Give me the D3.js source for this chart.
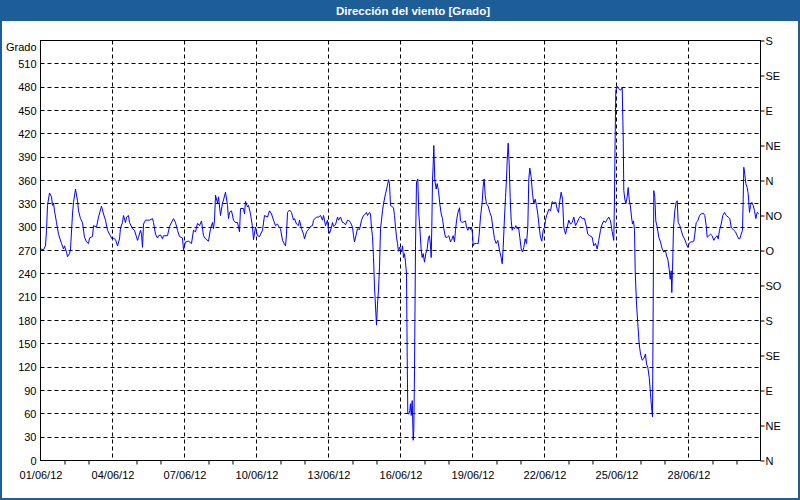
<!DOCTYPE html>
<html>
<head>
<meta charset="utf-8">
<script src="https://cdn.jsdelivr.net/npm/d3@7"></script>
<style>
  body { margin: 0; background: #fff; }
  text { font-family: "Liberation Sans", Arial, sans-serif; font-size: 11px; fill: #000; }
</style>
</head>
<body>
<div id="chart"></div>
<script>
const titulo = "Dirección del viento [Grado]";
const unidad = "Grado";

// horas desde 01/06/12 00:00
const horas = [
  0, 3, 5, 6, 7, 9, 11, 12, 13, 14, 16, 18, 21, 23, 24, 26, 27, 29, 30, 32,
  33, 35, 37, 38, 40, 42, 44, 46, 48, 49, 52, 53, 56, 58, 61, 63, 65, 67, 69, 72,
  73, 75, 77, 79, 80, 82, 83, 85, 86, 88, 89, 92, 94, 97, 98, 100, 101, 102, 103, 105,
  107, 109, 112, 113, 115, 117, 118, 120,
  122, 123, 127, 129, 133, 135, 137, 139, 142, 143, 145, 148, 151, 153, 155, 157, 159, 161,
  163, 165, 168, 170, 172, 173, 174, 175, 177, 178, 180, 182, 183, 185, 187, 188, 189, 191,
  193, 195, 197, 199, 200, 203, 204, 205, 207, 208, 210, 212, 213, 215, 217, 219, 222, 224,
  227, 229, 231, 233, 235, 237, 239,
  240, 242, 244, 245, 246, 247, 249, 251, 253, 254, 256, 258, 259, 261, 263, 264, 266, 268,
  270, 272, 273, 276, 278, 280, 282, 283, 285, 287, 288, 289, 291, 292, 293, 295, 297, 298,
  300, 302, 303, 305, 307, 308, 310, 312, 313, 314, 317, 319, 321, 323, 325, 326, 327, 329,
  330, 331, 332, 333, 334, 336, 337, 338, 339, 340, 341, 342, 343, 345, 347, 348, 349,
  350, 353, 354, 355, 356, 357, 358, 359, 361, 362, 363, 364, 365, 366, 366.7, 367.3, 368.3,
  369.3, 370, 370.7, 371.7, 372.7, 373.3, 374, 375, 376, 377.3, 378.3, 379.3, 380.7, 381.7,
  382.7, 384, 385.3, 386.7, 388, 389, 390, 390.7, 391.3, 392, 392.7, 393.3, 394.3, 395.7,
  396.7, 398, 399.3, 400.7, 402, 403.3, 405, 406.7, 408.3, 410,
  411, 412.7, 414, 415, 416, 417.3, 419, 420, 421.7, 423.3, 425, 426, 427.3, 429, 430, 431,
  432, 432.7, 434, 436, 437.7, 438.7, 440, 441.7, 442.7, 443.7, 444.7, 446, 447.7, 449.3,
  451, 452.3, 454, 455.7, 457.3, 459, 460.7, 461.7, 462.7, 464, 465, 466, 466.7, 467.7,
  468.7, 469.7, 470.7, 471.7, 472.7, 474, 475.3, 476.7, 478, 479.3, 480.7, 482, 483.3,
  484.7, 486, 487.3, 488.3, 489.3, 490.7, 492, 493.3, 494.7, 496, 497.3, 498.7, 500, 501.3,
  502.7, 504, 505.3, 506.7, 508.3, 510, 511.7, 513.3, 515.3, 516.7, 518, 519.3, 520.7, 522,
  523.3, 525, 526.7, 528.3, 530, 531.7, 533.3, 535, 536.7, 538.3, 540, 541.7, 544, 546,
  547.3, 549.3, 551.7, 553.3, 555, 556.7, 558.3, 560,
  561.7, 563.3, 565, 566.7, 568.3, 570, 571.7, 572.7, 573.3, 574, 574.7, 575.3, 576.7, 578.3,
  580, 581.7, 582.7, 583.3, 584.3, 585.3, 586.7, 587.7, 588.7, 590, 591, 592, 593, 594,
  594.7, 596, 597.3, 598.7, 600, 601.7, 603.3, 605, 606, 607.3, 608.7, 610, 611, 612,
  612.7, 613.3, 614.3, 615.3, 616.7, 618.3, 620, 621.7, 623.3, 625, 626, 627.3, 628.7,
  629.7, 630.7, 631.3, 632, 633, 634.3, 635.7, 636.7, 637.7, 639.3, 640.7, 642.3, 644,
  645.7, 647.3, 648.7, 650, 651.7, 653.3, 654.3, 655.7, 657.3, 659, 660.7, 662.7, 664.3,
  665.7, 666.7, 668.3, 670, 671.7, 673.3, 675, 676.7, 677.7, 679, 680.7, 682.3, 684, 685.7,
  687.7, 689.3, 690.7, 692, 693.3, 695, 696.7, 698.3, 699.3, 700.7, 702, 702.7, 703.3,
  704.3, 705.3, 706.7, 707.7, 709, 710, 711.3, 712.7, 714, 715.3, 716.7, 718.3
];

const grados = [
  272, 271, 276, 296, 328, 344, 339, 328, 331, 321, 306, 291, 279, 272, 276, 268, 262, 266, 272, 317,
  332, 349, 334, 321, 311, 306, 287, 281, 279, 286, 288, 302, 300, 313, 327, 317, 309, 296, 291, 284,
  286, 284, 276, 285, 299, 306, 315, 306, 313, 315, 306, 298, 296, 283, 287, 296, 291, 274, 304, 309,
  309, 309, 311, 306, 291, 286, 289, 290,
  285, 289, 289, 301, 311, 306, 296, 288, 286, 271, 281, 282, 279, 296, 294, 305, 302, 308,
  289, 285, 282, 298, 306, 298, 309, 341, 331, 339, 315, 331, 335, 345, 328, 311, 319, 321,
  309, 306, 306, 294, 324, 324, 317, 333, 326, 328, 317, 300, 284, 300, 289, 288, 296, 315,
  313, 321, 317, 309, 302, 304, 299,
  298, 283, 278, 276, 291, 319, 322, 319, 309, 311, 304, 302, 309, 298, 291, 285, 294, 297,
  301, 302, 309, 313, 313, 315, 309, 315, 302, 309, 296, 292, 300, 306, 301, 303, 313, 309,
  313, 306, 306, 303, 309, 309, 306, 300, 289, 281, 298, 297, 309, 315, 317, 319, 315, 319,
  317, 299, 288, 261, 223, 174, 201, 219, 249, 298, 309, 321, 330, 343, 354, 361, 356,
  328, 325, 315, 300, 287, 279, 269, 274, 268, 276, 261, 266, 255, 240, 133, 60, 60,
  64, 73, 58, 77, 26, 39, 116, 276, 358, 362, 317, 300, 270, 261,
  266, 255, 266, 272, 287, 289, 276, 261, 300, 360, 381, 405, 360, 349,
  356, 347, 330, 317, 311, 298, 287, 287, 289, 281,
  283, 289, 281, 296, 308, 318, 325, 308, 306, 307, 308, 300, 296, 300, 297, 300,
  291, 276, 279, 279, 279, 291, 313, 332, 353, 362, 341, 330, 327, 319,
  313, 300, 285, 279, 283, 270, 261, 253, 274, 313, 338, 362, 386, 408,
  381, 338, 308, 296, 300, 298, 302, 298, 300, 287, 272, 268, 274,
  285, 279, 300, 362, 376, 364, 343, 330, 336, 328, 317, 300, 287, 282,
  296, 300, 311, 317, 323, 321, 333, 331, 332, 323, 319, 334, 345, 336,
  300, 291, 300, 309, 304, 306, 313, 302, 306, 311, 314, 311, 311, 300,
  291, 289, 287, 276, 279, 272, 283, 296,
  304, 308, 306, 310, 313, 308, 294, 287, 283, 341, 420, 476, 481, 478,
  476, 479, 416, 347, 336, 330, 339, 351, 336, 326, 313, 304, 308, 296,
  244, 201, 176, 150, 137, 129, 131, 137, 124, 120, 107, 86, 69, 56,
  201, 347, 339, 308, 300, 287, 281, 272, 268, 270, 263, 259, 246,
  233, 244, 216, 244, 300, 321, 332, 334, 306, 302, 296, 289, 285,
  279, 274, 279, 281, 281, 282, 291, 306, 308, 315, 317, 318, 315,
  302, 287, 289, 291, 289, 283, 287, 289, 285, 296, 304, 315, 319, 315,
  313, 311, 300, 298, 296, 294, 289, 285, 285, 291, 296, 336, 377,
  368, 356, 351, 343, 319, 328, 332, 328, 321, 311, 319, 317
];

const ticksGrado = [0, 30, 60, 90, 120, 150, 180, 210, 240, 270, 300, 330, 360, 390, 420, 450, 480, 510];
const rumbos = ["N", "NE", "E", "SE", "S", "SO", "O", "NO", "N", "NE", "E", "SE", "S"];
const fechas = ["01/06/12", "04/06/12", "07/06/12", "10/06/12", "13/06/12", "16/06/12",
                "19/06/12", "22/06/12", "25/06/12", "28/06/12"];

const w = 800;
const h = 500;
const pLeft = 40, pRight = 760, pTop = 40, pBottom = 460;
const azul = "#1d5e98";

const inicio = new Date(2012, 5, 1);
const fin = new Date(2012, 6, 1);
const parseFecha = d3.timeParse("%d/%m/%y");

const datos = horas.map((hr, i) => ({
  t: new Date(inicio.getTime() + hr * 3600000),
  v: grados[i]
}));

const xScale = d3.scaleTime().domain([inicio, fin]).range([pLeft, pRight]);
const yScale = d3.scaleLinear().domain([0, 540]).range([pBottom, pTop]);

const svg = d3.select("#chart")
  .append("svg")
  .attr("width", w)
  .attr("height", h);

// window frame + title bar
svg.append("rect")
  .attr("x", 0).attr("y", 0).attr("width", w).attr("height", h)
  .attr("fill", "#fff");
svg.append("rect")
  .attr("x", 1).attr("y", 1).attr("width", w - 2).attr("height", h - 2)
  .attr("fill", "none").attr("stroke", azul).attr("stroke-width", 2);
svg.append("rect")
  .attr("x", 0).attr("y", 0).attr("width", w).attr("height", 21)
  .attr("fill", azul);
svg.append("text")
  .attr("x", 413).attr("y", 15)
  .attr("text-anchor", "middle")
  .style("fill", "#fff")
  .style("font-weight", "bold")
  .style("font-size", "11.5px")
  .text(titulo);

const g = svg.append("g").attr("transform", "translate(0.5,0.5)");

// grid
g.append("g")
  .selectAll("line")
  .data(ticksGrado.filter(d => d > 0))
  .join("line")
  .attr("x1", pLeft).attr("x2", pRight)
  .attr("y1", d => Math.round(yScale(d))).attr("y2", d => Math.round(yScale(d)))
  .attr("stroke", "#000").attr("stroke-dasharray", "4,3");

const fechasMayores = fechas.map(parseFecha);
g.append("g")
  .selectAll("line")
  .data(fechasMayores.slice(1))
  .join("line")
  .attr("x1", d => Math.round(xScale(d))).attr("x2", d => Math.round(xScale(d)))
  .attr("y1", pTop).attr("y2", pBottom)
  .attr("stroke", "#000").attr("stroke-dasharray", "4,3");

// left axis
const yAxis = d3.axisLeft(yScale).tickValues(ticksGrado).tickSize(0).tickPadding(4);
g.append("g")
  .attr("transform", "translate(" + pLeft + ",0)")
  .call(yAxis)
  .call(a => a.select(".domain").remove())
  .selectAll("text").style("font-size", "11px");

g.append("text")
  .attr("x", 36).attr("y", 50)
  .attr("text-anchor", "end")
  .text(unidad);

// right axis
const yAxisR = d3.axisRight(yScale)
  .tickValues(d3.range(0, 541, 45))
  .tickFormat((d, i) => rumbos[i])
  .tickSize(4).tickPadding(1);
g.append("g")
  .attr("transform", "translate(" + pRight + ",0)")
  .call(yAxisR)
  .call(a => a.select(".domain").remove())
  .selectAll("text").style("font-size", "11px");

// bottom axis, labels
const xAxis = d3.axisBottom(xScale)
  .tickValues(fechasMayores)
  .tickFormat((d, i) => fechas[i])
  .tickSize(0).tickPadding(11);
g.append("g")
  .attr("transform", "translate(0," + pBottom + ")")
  .call(xAxis)
  .call(a => a.select(".domain").remove())
  .selectAll("text").style("font-size", "11px");

// bottom axis, day ticks
const dias = d3.timeDay.range(inicio, fin)
  .filter(d => !fechasMayores.some(m => +m === +d));
const xAxisMenor = d3.axisBottom(xScale)
  .tickValues(dias)
  .tickFormat("")
  .tickSize(4);
g.append("g")
  .attr("transform", "translate(0," + pBottom + ")")
  .call(xAxisMenor)
  .call(a => a.select(".domain").remove());

// series
const line = d3.line()
  .x(d => xScale(d.t))
  .y(d => yScale(d.v));

g.append("path")
  .datum(datos)
  .attr("fill", "none")
  .attr("stroke", "#0000ff")
  .attr("stroke-width", 1)
  .attr("d", line);

// plot frame
g.append("rect")
  .attr("x", pLeft).attr("y", pTop)
  .attr("width", pRight - pLeft).attr("height", pBottom - pTop)
  .attr("fill", "none").attr("stroke", "#000");
</script>
</body>
</html>
